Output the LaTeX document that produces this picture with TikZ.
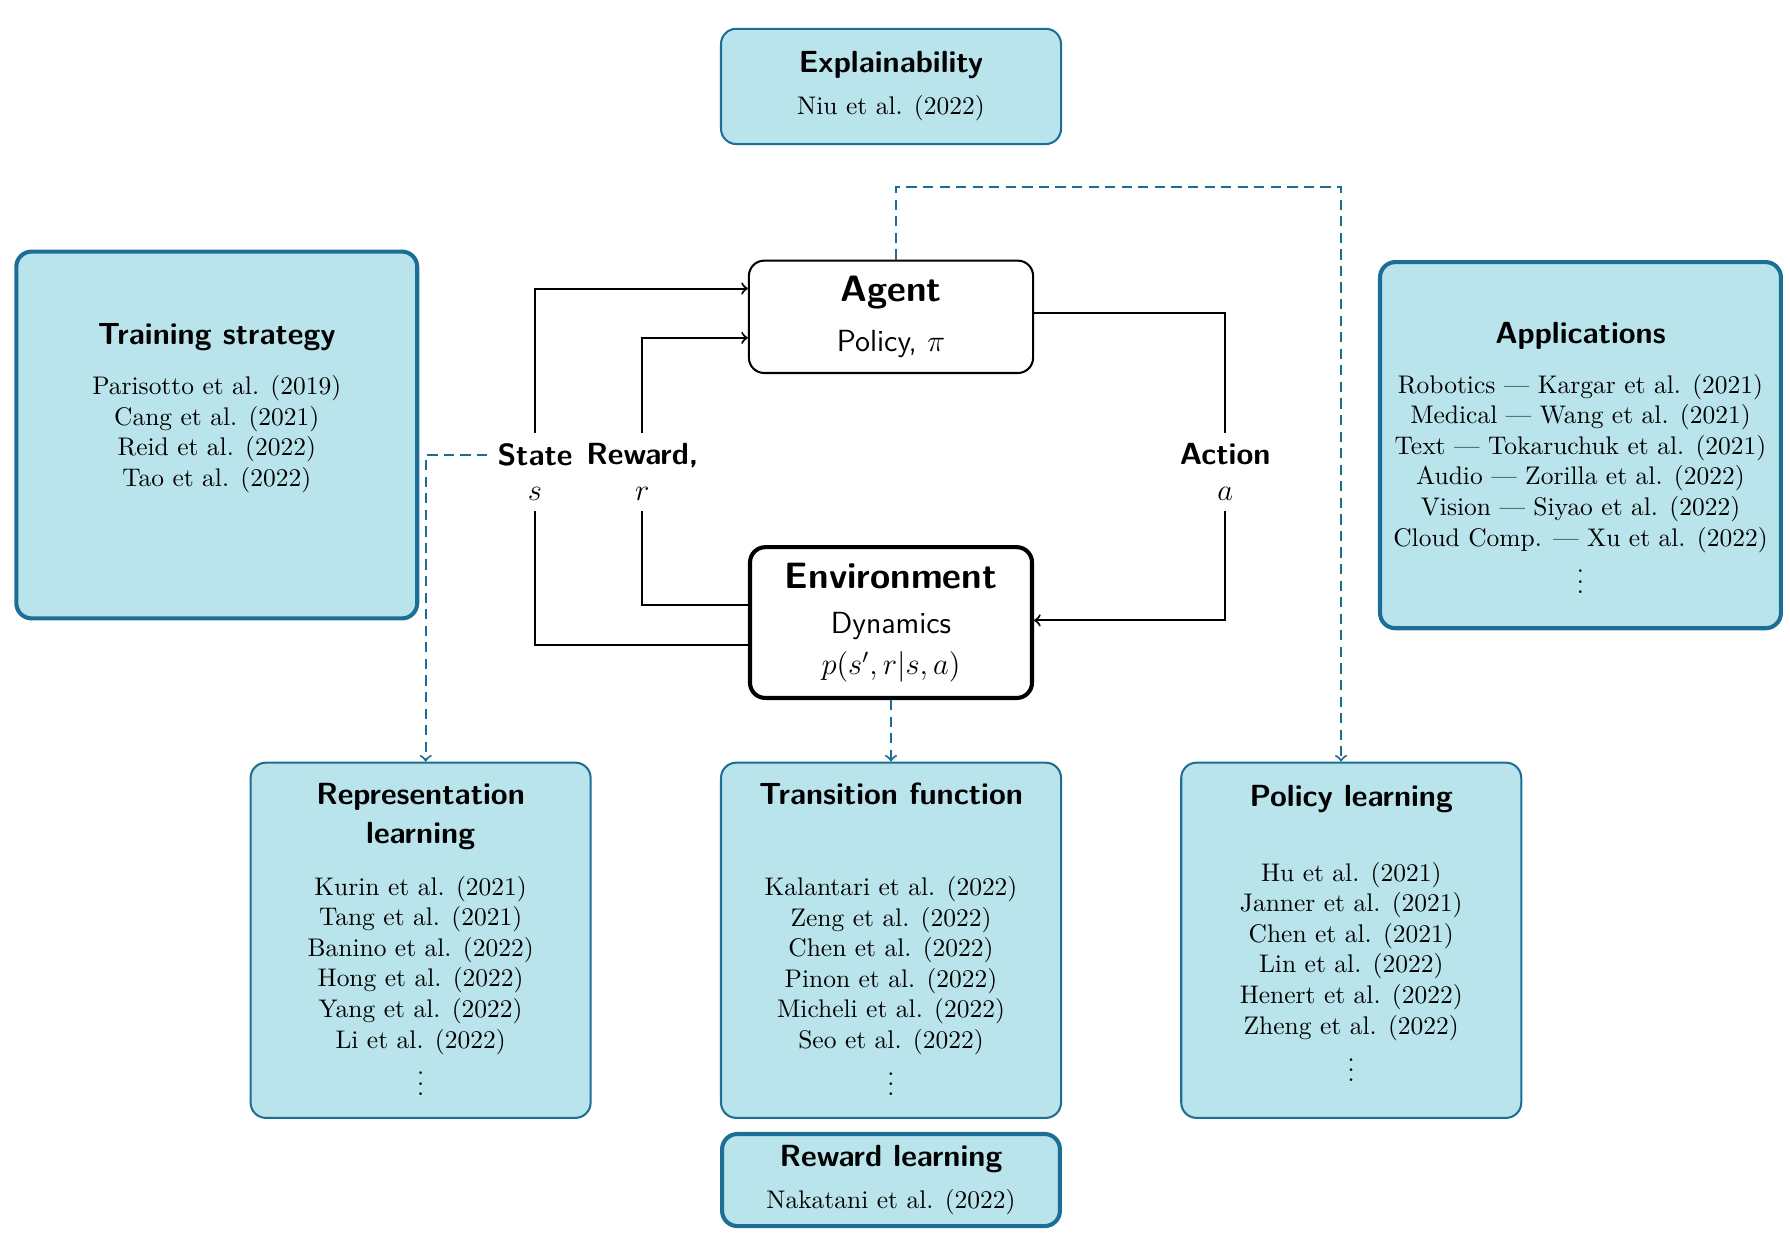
\documentclass[tikz,border=0pt,11pt]{standalone}
\usetikzlibrary{positioning}

\definecolor{topicfill}{HTML}{B9E4EC}
\definecolor{topicline}{HTML}{1C6E94}

\begin{document}
\begin{tikzpicture}[->,>=to,thick,node distance=2cm,
    base box/.style={rectangle,draw,rounded corners=6pt,align=center},
    core box/.style={base box,minimum width=3.92cm,font=\large\sffamily},
    topic box/.style={base box,draw=topicline,fill=topicfill,minimum width=4.69cm,font=\small},
    wide box/.style={topic box,ultra thick,minimum width=5.53cm},
    ref text/.style={align=center,inner sep=0pt,font=\small},
    flow label/.style={align=center,font=\large\sffamily\bfseries},
    dashed link/.style={draw=topicline,thick,dash pattern=on 4pt off 2.5pt}]

  \useasboundingbox (-12.29,-12.69) rectangle (12.40,4.37);

  \node[core box,minimum height=1.55cm] (agent) at (0,0) {{\Large\bfseries Agent}\\[5.6pt] Policy, $\pi$};
  \node[core box,ultra thick,minimum width=3.89cm,minimum height=2.08cm] (env) [below=2.36cm of agent] {{\Large\bfseries Environment}\\[3.6pt] Dynamics\\[2pt] $p(s',r|s,a)$};

  \node[topic box,minimum height=1.59cm] (expl) [above=1.58cm of agent] {{\large\sffamily\bfseries Explainability}\\[4.5pt] Niu et al. (2022)};

  \node[topic box,minimum height=4.90cm] (trans) [below=0.85cm of env] {};
  \node[topic box,minimum height=4.90cm] (repr) [left=1.77cm of trans] {};
  \node[topic box,minimum height=4.90cm] (pol) [right=1.63cm of trans] {};
  \node[topic box,ultra thick,minimum width=4.66cm,minimum height=1.27cm] (rew) [below=0.18cm of trans] {{\large\sffamily\bfseries Reward learning}\\[4.5pt] Nakatani et al. (2022)};

  \node[wide box,minimum height=5.06cm] (train) at (-9.30,-1.63) {};
  \node[wide box,minimum height=5.05cm] (apps) at (9.51,-1.77) {};

  % texts of the topic boxes
  \node[ref text] (trainTxt) [below=1.01cm of train.north] {{\large\sffamily\bfseries Training strategy}\\[7.6pt]
    Parisotto et al. (2019)\\ Cang et al. (2021)\\ Reid et al. (2022)\\ Tao et al. (2022)};
  \node[ref text] (appsTxt) [below=0.84cm of apps.north] {{\large\sffamily\bfseries Applications}\\[7.6pt]
    Robotics --- Kargar et al. (2021)\\ Medical --- Wang et al. (2021)\\ Text --- Tokaruchuk et al. (2021)\\
    Audio --- Zorilla et al. (2022)\\ Vision --- Siyao et al. (2022)\\ Cloud Comp. --- Xu et al. (2022)\\ $\vdots$};
  \node[ref text] (reprTxt) [below=0.28cm of repr.north] {{\large\sffamily\bfseries Representation}\\[3.3pt]
    {\large\sffamily\bfseries learning}\\[8.4pt]
    Kurin et al. (2021)\\ Tang et al. (2021)\\ Banino et al. (2022)\\ Hong et al. (2022)\\
    Yang et al. (2022)\\ Li et al. (2022)\\ $\vdots$};
  \node[ref text] (transTxt) [below=0.28cm of trans.north] {{\large\sffamily\bfseries Transition function}\\[23.7pt]
    Kalantari et al. (2022)\\ Zeng et al. (2022)\\ Chen et al. (2022)\\ Pinon et al. (2022)\\
    Micheli et al. (2022)\\ Seo et al. (2022)\\ $\vdots$};
  \node[ref text] (polTxt) [below=0.31cm of pol.north] {{\large\sffamily\bfseries Policy learning}\\[17.4pt]
    Hu et al. (2021)\\ Janner et al. (2021)\\ Chen et al. (2021)\\ Lin et al. (2022)\\
    Henert et al. (2022)\\ Zheng et al. (2022)\\ $\vdots$};

  % loop labels
  \node[flow label] (slbl) at (-4.91,-2.14) {State\\ $s$};
  \node[flow label] (rlbl) at (-3.43,-2.14) {Reward,\\ $r$};
  \node[flow label] (albl) at (4.61,-2.14) {Action\\ $a$};

  \draw ([yshift=-0.31cm]env.west) -| (slbl) |- ([yshift=0.39cm]agent.west);
  \draw ([yshift=0.24cm]env.west) -| (rlbl) |- ([yshift=-0.29cm]agent.west);
  \draw ([yshift=0.05cm]agent.east) -| (albl) |- ([yshift=0.03cm]env.east);

  % links to the topics
  \draw[dashed link] ([xshift=2pt]agent.north) -- ++(0,1.0) -| ([xshift=-4pt]pol.north);
  \draw[dashed link] (env.south) -- (trans.north);
  \draw[dashed link] ([yshift=0.23cm]slbl.west) -| ([xshift=2pt]repr.north);
\end{tikzpicture}
\end{document}
